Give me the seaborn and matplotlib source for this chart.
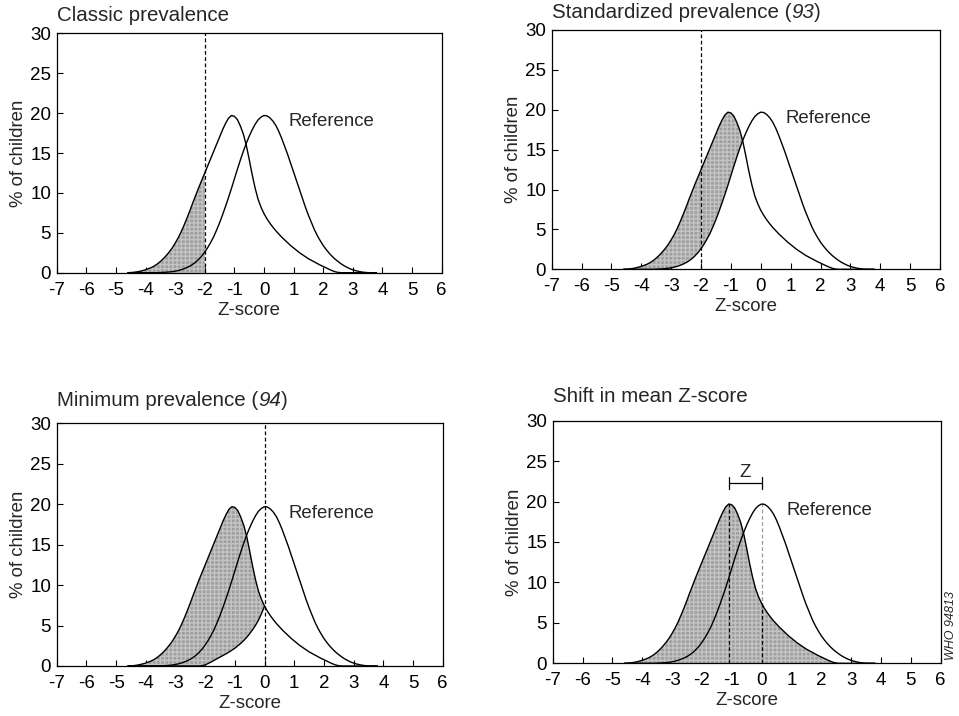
import numpy as np
import pandas as pd
import matplotlib
matplotlib.use("Agg")
import matplotlib.pyplot as plt
import seaborn as sns

# Z-score sampling grid, -4.6 to 3.8 in steps of 0.1
Z = [round(-4.6 + 0.1 * i, 1) for i in range(85)]

# Reference population (% of children) at each Z
REF_PCT = [
    0, 0, 0, 0, 0, 0, 0, 0, 0, 0,
    0, 0.02, 0.04, 0.06, 0.09, 0.13, 0.19, 0.27, 0.37, 0.5,
    0.65, 0.84, 1.07, 1.35, 1.7, 2.1, 2.6, 3.15, 3.8, 4.5,
    5.35, 6.25, 7.25, 8.3, 9.4, 10.55, 11.75, 12.95, 14.1, 15.2,
    16.2, 17.1, 17.9, 18.6, 19.15, 19.5, 19.7, 19.65, 19.4, 19.0,
    18.45, 17.7, 16.8, 15.8, 14.8, 13.7, 12.6, 11.5, 10.4, 9.3,
    8.2, 7.2, 6.3, 5.4, 4.65, 4.0, 3.4, 2.9, 2.45, 2.05,
    1.7, 1.4, 1.12, 0.88, 0.68, 0.5, 0.36, 0.25, 0.16, 0.09,
    0.04, 0.01, 0.0, 0.0, 0.0,
]

# Observed population, shifted to the left (% of children) at each Z
OBS_PCT = [
    0.0, 0.02, 0.05, 0.1, 0.17, 0.26, 0.37, 0.5, 0.65, 0.85,
    1.1, 1.4, 1.75, 2.15, 2.6, 3.1, 3.7, 4.35, 5.1, 5.95,
    6.85, 7.8, 8.8, 9.75, 10.7, 11.6, 12.5, 13.4, 14.3, 15.2,
    16.1, 17.0, 17.9, 18.7, 19.35, 19.7, 19.6, 19.2, 18.4, 17.4,
    16.0, 14.2, 12.3, 10.6, 9.2, 8.2, 7.4, 6.75, 6.2, 5.7,
    5.25, 4.85, 4.45, 4.1, 3.75, 3.4, 3.1, 2.8, 2.5, 2.25,
    2.0, 1.75, 1.55, 1.35, 1.15, 0.95, 0.78, 0.6, 0.42, 0.26,
    0.12, 0.04, 0, 0, 0, 0, 0, 0, 0, 0,
    0, 0, 0, 0, 0,
]

# Upper tail of the observed curve mirrored below the reference median
MIRROR_Z = [round(-2.3 + 0.1 * i, 1) for i in range(24)]
MIRROR_PCT = [0.0, 0.0, 0.05, 0.15, 0.3, 0.5, 0.7, 0.9, 1.1, 1.3,
              1.5, 1.72, 1.95, 2.2, 2.5, 2.8, 3.15, 3.55, 4.0, 4.5,
              5.05, 5.7, 6.5, 7.4]

OBS_MEAN = -1.1
REF_MEAN = 0.0
CUTOFF = -2.0

X_TICKS = list(range(-7, 7))
Y_TICKS = [0, 5, 10, 15, 20, 25, 30]

# title pieces: (text, italic?)
TITLES = [
    [("Classic prevalence", False)],
    [("Standardized prevalence (", False), ("93", True), (")", False)],
    [("Minimum prevalence (", False), ("94", True), (")", False)],
    [("Shift in mean Z-score", False)],
]

sns.set_style("ticks")
plt.rcParams["font.family"] = ["Liberation Sans", "DejaVu Sans"]

df = pd.DataFrame({"z": Z, "ref": REF_PCT, "obs": OBS_PCT})
mirror_map = {round(z, 1): v for z, v in zip(MIRROR_Z, MIRROR_PCT)}
df["mirror"] = [mirror_map.get(round(z, 1), 0.0) for z in Z]
assert len(REF_PCT) == len(Z) and len(OBS_PCT) == len(Z)

W, H = 959, 716
fig = plt.figure(figsize=(W / 100, H / 100), dpi=100)
renderer = fig.canvas.get_renderer()

boxes = [
    (56.7, 441.7, 33.3, 272.7),
    (551.7, 940.0, 30.0, 269.3),
    (56.7, 442.7, 423.3, 666.0),
    (552.7, 940.7, 420.7, 663.3),
]
title_offsets = [18, 17, 23, 24]

SHADE = "#9f9f9f"
HATCH_COL = "#c4c4c4"
LW = 1.0
DASH = (0, (3, 2))


def shade(ax, x, y1, y2, where=None):
    ax.fill_between(x, y1, y2, where=where, interpolate=True,
                    facecolor=SHADE, edgecolor=HATCH_COL, hatch="++++",
                    linewidth=0, zorder=1)


def title_pieces(x_px, y_px, pieces, size=14.8):
    x = x_px
    for text, italic in pieces:
        t = fig.text(x / W, 1 - y_px / H, text, fontsize=size,
                     style="italic" if italic else "normal",
                     ha="left", va="center")
        bb = t.get_window_extent(renderer=renderer)
        x += bb.width


for i, (x0, x1, y0, y1) in enumerate(boxes):
    ax = fig.add_axes([x0 / W, 1 - y1 / H, (x1 - x0) / W, (y1 - y0) / H])
    z = df["z"].to_numpy()
    ref = df["ref"].to_numpy()
    obs = df["obs"].to_numpy()
    mir = df["mirror"].to_numpy()

    if i == 0:
        shade(ax, z, obs, 0, where=z <= CUTOFF)
        ax.axvline(CUTOFF, color="black", lw=0.9, ls=DASH, zorder=3)
    elif i == 1:
        shade(ax, z, obs, ref, where=(obs >= ref) & (z <= 0))
        ax.axvline(CUTOFF, color="black", lw=0.9, ls=DASH, zorder=3)
    elif i == 2:
        shade(ax, z, obs, mir, where=z <= 0)
        ax.axvline(REF_MEAN, color="black", lw=0.9, ls=DASH, zorder=3)
        sns.lineplot(data=df[df["z"] <= 0], x="z", y="mirror", ax=ax,
                     color="black", lw=LW, estimator=None, sort=False, zorder=4)
    else:
        shade(ax, z, obs, 0)
        peak_obs = df.loc[np.isclose(df["z"], OBS_MEAN), "obs"].iloc[0]
        peak_ref = df.loc[np.isclose(df["z"], REF_MEAN), "ref"].iloc[0]
        obs_at_ref = df.loc[np.isclose(df["z"], REF_MEAN), "obs"].iloc[0]
        ax.vlines(OBS_MEAN, 0, peak_obs, color="black", lw=0.9,
                  linestyles=[DASH], zorder=3)
        ax.vlines(REF_MEAN, 0, peak_ref, color="#9a9a9a", lw=0.9,
                  linestyles=[DASH], zorder=3)
        ax.vlines(REF_MEAN, 0, obs_at_ref, color="black", lw=0.9,
                  linestyles=[DASH], zorder=3)
        # bracket marking the distance between the two means
        yb = 22.3
        ax.plot([OBS_MEAN, REF_MEAN], [yb, yb], color="black", lw=0.9)
        ax.plot([OBS_MEAN, OBS_MEAN], [yb - 0.7, yb + 0.7], color="black", lw=0.9)
        ax.plot([REF_MEAN, REF_MEAN], [yb - 0.7, yb + 0.7], color="black", lw=0.9)
        ax.text((OBS_MEAN + REF_MEAN) / 2, yb + 1.3, "Z", fontsize=13.4,
                ha="center", va="center")

    sns.lineplot(data=df, x="z", y="obs", ax=ax, color="black", lw=LW,
                 estimator=None, sort=False, zorder=4)
    sns.lineplot(data=df, x="z", y="ref", ax=ax, color="black", lw=LW,
                 estimator=None, sort=False, zorder=4)
    ax.text(0.82, 18.9, "Reference", fontsize=13.4, ha="left", va="center")

    ax.set_xlim(-7, 6)
    ax.set_ylim(0, 30)
    ax.set_xticks(X_TICKS)
    ax.set_yticks(Y_TICKS)
    ax.set_xticklabels([str(t) for t in X_TICKS])
    ax.tick_params(axis="both", direction="in", length=4.3, width=0.8,
                   labelsize=13.5, colors="black")
    ax.tick_params(axis="x", pad=6.5)
    ax.tick_params(axis="y", pad=4)
    for s in ax.spines.values():
        s.set_visible(True)
        s.set_linewidth(0.9)
        s.set_color("black")
    ax.set_xlabel("Z-score", fontsize=13.4, labelpad=2)
    ax.set_ylabel("% of children", fontsize=13.4, labelpad=2)
    title_pieces(x0, y0 - title_offsets[i], TITLES[i])

fig.text(951 / W, 1 - 626 / H, "WHO 94813", rotation=90, fontsize=9,
         style="italic", ha="center", va="center")

fig.savefig("out.png", dpi=100)
